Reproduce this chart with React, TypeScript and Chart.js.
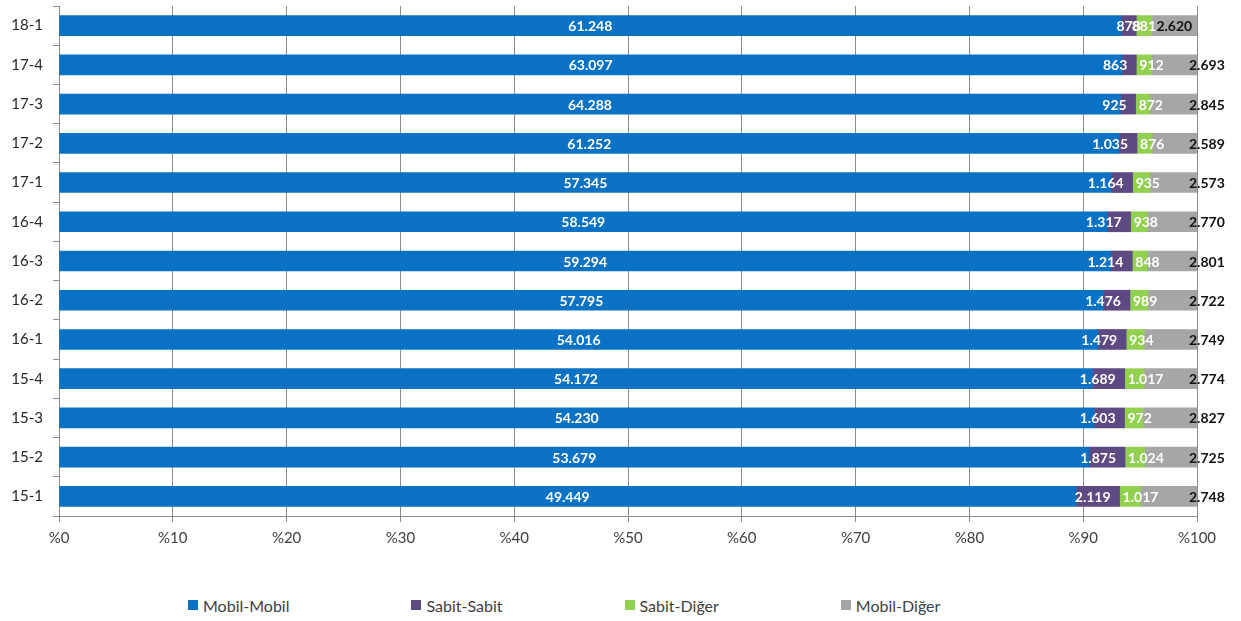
import React, { useEffect, useRef } from 'react';
import { Chart, registerables } from 'chart.js';

Chart.register(...registerables);

const categories = ['18-1', '17-4', '17-3', '17-2', '17-1', '16-4', '16-3', '16-2', '16-1', '15-4', '15-3', '15-2', '15-1'];
const mobilMobil = [61248, 63097, 64288, 61252, 57345, 58549, 59294, 57795, 54016, 54172, 54230, 53679, 49449];
const sabitSabit = [878, 863, 925, 1035, 1164, 1317, 1214, 1476, 1479, 1689, 1603, 1875, 2119];
const sabitDiger = [881, 912, 872, 876, 935, 938, 848, 989, 934, 1017, 972, 1024, 1017];
const mobilDiger = [2620, 2693, 2845, 2589, 2573, 2770, 2801, 2722, 2749, 2774, 2827, 2725, 2748];
const seriesNames = ['Mobil-Mobil', 'Sabit-Sabit', 'Sabit-Diğer', 'Mobil-Diğer'];
const seriesColors = ['#0a72c4', '#5e4a82', '#92d050', '#a6a6a6'];
const xTicks = [0, 10, 20, 30, 40, 50, 60, 70, 80, 90, 100];

const rawSeries = [mobilMobil, sabitSabit, sabitDiger, mobilDiger];
const totals = categories.map((_, i) => rawSeries.reduce((s, arr) => s + arr[i], 0));

function fmt(n: number): string {
  return String(n).replace(/\B(?=(\d{3})+(?!\d))/g, '.');
}

const FONT = 'Lato, "Open Sans", sans-serif';

const labelPlugin = {
  id: 'segmentLabels',
  afterDatasetsDraw(chart: any) {
    const ctx = chart.ctx;
    const area = chart.chartArea;
    ctx.save();
    ctx.font = `bold 14px ${FONT}`;
    ctx.textBaseline = 'middle';
    chart.data.datasets.forEach((_ds: any, di: number) => {
      const meta = chart.getDatasetMeta(di);
      meta.data.forEach((bar: any, i: number) => {
        const text = fmt(rawSeries[di][i]);
        const { x, y, base } = bar.getProps(['x', 'y', 'base'], true);
        let tx: number;
        let align: CanvasTextAlign;
        if (di === 0 || i === 0) {
          tx = (x + base) / 2;
          align = 'center';
        } else if (di === 1) {
          tx = x - 9;
          align = 'right';
        } else if (di === 2) {
          tx = base + 3;
          align = 'left';
        } else {
          tx = area.right - 8;
          align = 'left';
        }
        ctx.textAlign = align;
        ctx.fillStyle = di === 3 ? '#111111' : '#ffffff';
        ctx.fillText(text, tx, y + 1);
      });
    });
    ctx.restore();
  },
};

export default function App() {
  const ref = useRef<HTMLCanvasElement>(null);

  useEffect(() => {
    if (!ref.current) return;
    Chart.defaults.font.family = FONT;
    const chart = new Chart(ref.current, {
      type: 'bar',
      data: {
        labels: categories,
        datasets: rawSeries.map((arr, di) => ({
          label: seriesNames[di],
          data: arr.map((v, i) => (v / totals[i]) * 100),
          backgroundColor: seriesColors[di],
          borderWidth: 0,
          barThickness: 20,
        })),
      },
      options: {
        indexAxis: 'y',
        animation: false,
        responsive: false,
        layout: { padding: { top: 6, right: 44, left: 0, bottom: 0 } },
        scales: {
          x: {
            stacked: true,
            min: 0,
            max: 100,
            afterBuildTicks: (s: any) => {
              s.ticks = xTicks.map((v) => ({ value: v }));
            },
            afterFit: (s: any) => {
              s.height = 44;
              s.paddingLeft = 0;
              s.paddingRight = 0;
            },
            ticks: {
              callback: (v: any) => '%' + v,
              color: '#404040',
              font: { size: 15 },
              padding: 7,
              maxRotation: 0,
            },
            grid: { color: '#8c8c8c', tickLength: 6, drawTicks: true },
            border: { color: '#8c8c8c' },
          },
          y: {
            stacked: true,
            afterFit: (s: any) => {
              s.width = 59;
              s.paddingTop = 0;
              s.paddingBottom = 0;
            },
            ticks: { color: '#262626', font: { size: 15 }, padding: 10 },
            grid: { display: true, drawOnChartArea: false, tickLength: 6, color: '#8c8c8c', offset: true },
            border: { color: '#8c8c8c' },
          },
        },
        plugins: {
          legend: { display: false },
          tooltip: { enabled: false },
        },
      },
      plugins: [labelPlugin],
    } as any);
    return () => chart.destroy();
  }, []);

  return (
    <div style={{ position: 'absolute', left: 0, top: 0, width: 1241, height: 621, fontFamily: FONT }}>
      <canvas ref={ref} width={1241} height={560} style={{ position: 'absolute', left: 0, top: 0 }} />
      <div
        style={{
          position: 'absolute',
          left: 188,
          top: 595,
          height: 20,
          display: 'flex',
          alignItems: 'center',
          gap: 122,
          fontSize: 16,
          color: '#404040',
          whiteSpace: 'nowrap',
        }}
      >
        {seriesNames.map((name, i) => (
          <div key={name} style={{ display: 'flex', alignItems: 'center' }}>
            <span style={{ display: 'inline-block', width: 10, height: 10, background: seriesColors[i], marginRight: 5 }} />
            <span>{name}</span>
          </div>
        ))}
      </div>
    </div>
  );
}
